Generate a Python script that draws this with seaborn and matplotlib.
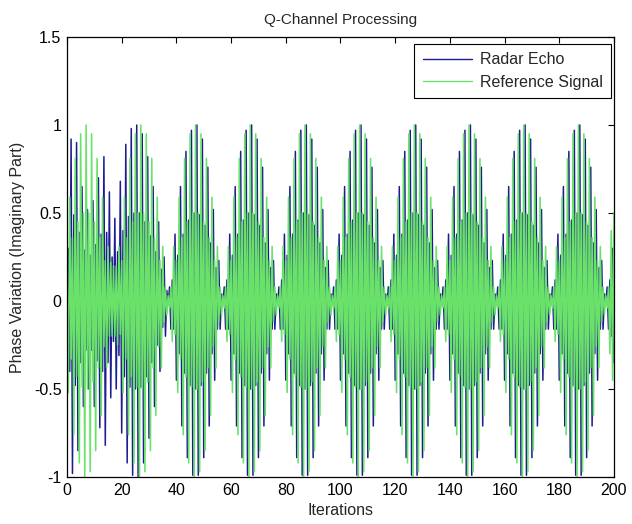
import numpy as np
import seaborn as sns
import matplotlib
matplotlib.use("Agg")
import matplotlib.pyplot as plt

# two samples per iteration, 0..200 (401 samples)
iterations = np.linspace(0, 200, 401)

radar_echo = [
    # 0 - 37 (irregular start)
    -0.35, 0.30, -0.40, 0.92, -0.98, 0.49, -0.48, 0.90, -0.85, 0.39,
    -0.35, 0.65, -0.60, 0.29, -0.28, 0.52, -0.50, 0.26, -0.28, 0.57,
    -0.60, 0.32, -0.34, 0.70, -0.72, 0.38, -0.40, 0.82, -0.82, 0.39,
    -0.35, 0.62, -0.55, 0.25, -0.23, 0.47, -0.50, 0.28, -0.31, 0.68,
    -0.75, 0.40, -0.43, 0.89, -0.92, 0.48, -0.49, 0.98, -0.99, 0.50,
    -0.50, 1.00, -1.00, 0.50, -0.49, 0.95, -0.92, 0.45, -0.43, 0.82,
    -0.78, 0.37, -0.35, 0.65, -0.60, 0.28, -0.25, 0.45, -0.40, 0.18,
    -0.15, 0.25, -0.20, 0.06,
    # 37 - 57
    -0.02, 0.08, -0.16, 0.12, -0.16, 0.38, -0.45, 0.26, -0.30, 0.65,
    -0.71, 0.38, -0.41, 0.85, -0.89, 0.46, -0.48, 0.97, -0.99, 0.50,
    -0.50, 1.00, -0.99, 0.49, -0.48, 0.92, -0.89, 0.43, -0.41, 0.76,
    -0.71, 0.33, -0.30, 0.52, -0.45, 0.19, -0.16, 0.23, -0.16, 0.04,
    # 57 - 77
    -0.02, 0.08, -0.16, 0.12, -0.16, 0.38, -0.45, 0.26, -0.30, 0.65,
    -0.71, 0.38, -0.41, 0.85, -0.89, 0.46, -0.48, 0.97, -0.99, 0.50,
    -0.50, 1.00, -0.99, 0.49, -0.48, 0.92, -0.89, 0.43, -0.41, 0.76,
    -0.71, 0.33, -0.30, 0.52, -0.45, 0.19, -0.16, 0.23, -0.16, 0.04,
    # 77 - 97
    -0.02, 0.08, -0.16, 0.12, -0.16, 0.38, -0.45, 0.26, -0.30, 0.65,
    -0.71, 0.38, -0.41, 0.85, -0.89, 0.46, -0.48, 0.97, -0.99, 0.50,
    -0.50, 1.00, -0.99, 0.49, -0.48, 0.92, -0.89, 0.43, -0.41, 0.76,
    -0.71, 0.33, -0.30, 0.52, -0.45, 0.19, -0.16, 0.23, -0.16, 0.04,
    # 97 - 117
    -0.02, 0.08, -0.16, 0.12, -0.16, 0.38, -0.45, 0.26, -0.30, 0.65,
    -0.71, 0.38, -0.41, 0.85, -0.89, 0.46, -0.48, 0.97, -0.99, 0.50,
    -0.50, 1.00, -0.99, 0.49, -0.48, 0.92, -0.89, 0.43, -0.41, 0.76,
    -0.71, 0.33, -0.30, 0.52, -0.45, 0.19, -0.16, 0.23, -0.16, 0.04,
    # 117 - 137
    -0.02, 0.08, -0.16, 0.12, -0.16, 0.38, -0.45, 0.26, -0.30, 0.65,
    -0.71, 0.38, -0.41, 0.85, -0.89, 0.46, -0.48, 0.97, -0.99, 0.50,
    -0.50, 1.00, -0.99, 0.49, -0.48, 0.92, -0.89, 0.43, -0.41, 0.76,
    -0.71, 0.33, -0.30, 0.52, -0.45, 0.19, -0.16, 0.23, -0.16, 0.04,
    # 137 - 157
    -0.02, 0.08, -0.16, 0.12, -0.16, 0.38, -0.45, 0.26, -0.30, 0.65,
    -0.71, 0.38, -0.41, 0.85, -0.89, 0.46, -0.48, 0.97, -0.99, 0.50,
    -0.50, 1.00, -0.99, 0.49, -0.48, 0.92, -0.89, 0.43, -0.41, 0.76,
    -0.71, 0.33, -0.30, 0.52, -0.45, 0.19, -0.16, 0.23, -0.16, 0.04,
    # 157 - 177
    -0.02, 0.08, -0.16, 0.12, -0.16, 0.38, -0.45, 0.26, -0.30, 0.65,
    -0.71, 0.38, -0.41, 0.85, -0.89, 0.46, -0.48, 0.97, -0.99, 0.50,
    -0.50, 1.00, -0.99, 0.49, -0.48, 0.92, -0.89, 0.43, -0.41, 0.76,
    -0.71, 0.33, -0.30, 0.52, -0.45, 0.19, -0.16, 0.23, -0.16, 0.04,
    # 177 - 197
    -0.02, 0.08, -0.16, 0.12, -0.16, 0.38, -0.45, 0.26, -0.30, 0.65,
    -0.71, 0.38, -0.41, 0.85, -0.89, 0.46, -0.48, 0.97, -0.99, 0.50,
    -0.50, 1.00, -0.99, 0.49, -0.48, 0.92, -0.89, 0.43, -0.41, 0.76,
    -0.71, 0.33, -0.30, 0.52, -0.45, 0.19, -0.16, 0.23, -0.16, 0.04,
    # 197 - 200
    -0.02, 0.08, -0.16, 0.12, -0.20, 0.30, -0.35,
]

reference_signal = [
    # 0 - 17
    0.23, -0.52, 0.59, -0.33, 0.36, -0.76, 0.81, -0.43, 0.45, -0.92,
    0.95, -0.49, 0.50, -1.00, 1.00, -0.50, 0.50, -0.97, 0.95, -0.46,
    0.45, -0.85, 0.81, -0.38, 0.36, -0.65, 0.59, -0.26, 0.23, -0.38,
    0.31, -0.20, 0.22, -0.20,
    # 17 - 37
    0.20, -0.20, 0.20, -0.25, 0.31, -0.19, 0.23, -0.52, 0.59, -0.33,
    0.36, -0.76, 0.81, -0.43, 0.45, -0.92, 0.95, -0.49, 0.50, -1.00,
    1.00, -0.50, 0.50, -0.97, 0.95, -0.46, 0.45, -0.85, 0.81, -0.38,
    0.36, -0.65, 0.59, -0.26, 0.23, -0.38, 0.31, -0.12, 0.08, -0.08,
    # 37 - 57
    0.03, -0.04, 0.08, -0.23, 0.31, -0.19, 0.23, -0.52, 0.59, -0.33,
    0.36, -0.76, 0.81, -0.43, 0.45, -0.92, 0.95, -0.49, 0.50, -1.00,
    1.00, -0.50, 0.50, -0.97, 0.95, -0.46, 0.45, -0.85, 0.81, -0.38,
    0.36, -0.65, 0.59, -0.26, 0.23, -0.38, 0.31, -0.12, 0.08, -0.08,
    # 57 - 77
    0.03, -0.04, 0.08, -0.23, 0.31, -0.19, 0.23, -0.52, 0.59, -0.33,
    0.36, -0.76, 0.81, -0.43, 0.45, -0.92, 0.95, -0.49, 0.50, -1.00,
    1.00, -0.50, 0.50, -0.97, 0.95, -0.46, 0.45, -0.85, 0.81, -0.38,
    0.36, -0.65, 0.59, -0.26, 0.23, -0.38, 0.31, -0.12, 0.08, -0.08,
    # 77 - 97
    0.03, -0.04, 0.08, -0.23, 0.31, -0.19, 0.23, -0.52, 0.59, -0.33,
    0.36, -0.76, 0.81, -0.43, 0.45, -0.92, 0.95, -0.49, 0.50, -1.00,
    1.00, -0.50, 0.50, -0.97, 0.95, -0.46, 0.45, -0.85, 0.81, -0.38,
    0.36, -0.65, 0.59, -0.26, 0.23, -0.38, 0.31, -0.12, 0.08, -0.08,
    # 97 - 117
    0.03, -0.04, 0.08, -0.23, 0.31, -0.19, 0.23, -0.52, 0.59, -0.33,
    0.36, -0.76, 0.81, -0.43, 0.45, -0.92, 0.95, -0.49, 0.50, -1.00,
    1.00, -0.50, 0.50, -0.97, 0.95, -0.46, 0.45, -0.85, 0.81, -0.38,
    0.36, -0.65, 0.59, -0.26, 0.23, -0.38, 0.31, -0.12, 0.08, -0.08,
    # 117 - 137
    0.03, -0.04, 0.08, -0.23, 0.31, -0.19, 0.23, -0.52, 0.59, -0.33,
    0.36, -0.76, 0.81, -0.43, 0.45, -0.92, 0.95, -0.49, 0.50, -1.00,
    1.00, -0.50, 0.50, -0.97, 0.95, -0.46, 0.45, -0.85, 0.81, -0.38,
    0.36, -0.65, 0.59, -0.26, 0.23, -0.38, 0.31, -0.12, 0.08, -0.08,
    # 137 - 157
    0.03, -0.04, 0.08, -0.23, 0.31, -0.19, 0.23, -0.52, 0.59, -0.33,
    0.36, -0.76, 0.81, -0.43, 0.45, -0.92, 0.95, -0.49, 0.50, -1.00,
    1.00, -0.50, 0.50, -0.97, 0.95, -0.46, 0.45, -0.85, 0.81, -0.38,
    0.36, -0.65, 0.59, -0.26, 0.23, -0.38, 0.31, -0.12, 0.08, -0.08,
    # 157 - 177
    0.03, -0.04, 0.08, -0.23, 0.31, -0.19, 0.23, -0.52, 0.59, -0.33,
    0.36, -0.76, 0.81, -0.43, 0.45, -0.92, 0.95, -0.49, 0.50, -1.00,
    1.00, -0.50, 0.50, -0.97, 0.95, -0.46, 0.45, -0.85, 0.81, -0.38,
    0.36, -0.65, 0.59, -0.26, 0.23, -0.38, 0.31, -0.12, 0.08, -0.08,
    # 177 - 197
    0.03, -0.04, 0.08, -0.23, 0.31, -0.19, 0.23, -0.52, 0.59, -0.33,
    0.36, -0.76, 0.81, -0.43, 0.45, -0.92, 0.95, -0.49, 0.50, -1.00,
    1.00, -0.50, 0.50, -0.97, 0.95, -0.46, 0.45, -0.85, 0.81, -0.38,
    0.36, -0.65, 0.59, -0.26, 0.23, -0.38, 0.31, -0.12, 0.08, -0.08,
    # 197 - 200
    0.03, -0.04, 0.08, -0.30, 0.40, -0.45, 0.50,
]

x_ticks = [0, 20, 40, 60, 80, 100, 120, 140, 160, 180, 200]
y_ticks = [-1, -0.5, 0, 0.5, 1, 1.5]
y_tick_labels = ["-1", "-0.5", "0", "0.5", "1", "1.5"]

sns.set_style("white")
plt.rcParams['font.family'] = ['Liberation Sans', 'DejaVu Sans']

fig = plt.figure(figsize=(6.32, 5.24), dpi=100)
ax = fig.add_axes([0.106, 0.0897, 0.8655, 0.8397])

sns.lineplot(x=iterations, y=radar_echo, color="#1c1c8f", lw=1.1, label="Radar Echo", ax=ax)
sns.lineplot(x=iterations, y=reference_signal, color="#6ae26a", lw=1.15, label="Reference Signal", ax=ax)

ax.set_xlim(0, 200)
ax.set_ylim(-1, 1.5)
ax.set_xticks(x_ticks)
ax.set_yticks(y_ticks)
ax.set_yticklabels(y_tick_labels)
ax.tick_params(direction="in", top=True, right=True, length=4, width=0.8,
               labelsize=11.5, colors="black", pad=4)
for s in ax.spines.values():
    s.set_color("black")
    s.set_linewidth(0.9)

ax.set_title("Q-Channel Processing", fontsize=11, pad=9)
ax.set_xlabel("Iterations", fontsize=11.5, labelpad=4)
ax.set_ylabel("Phase Variation (Imaginary Part)", fontsize=11.5, labelpad=6)

leg = ax.legend(loc="upper right", bbox_to_anchor=(0.9945, 0.984), borderaxespad=0,
                fontsize=11.5, handlelength=3.1, fancybox=False, framealpha=1,
                edgecolor="black", labelspacing=0.44, borderpad=0.53, handletextpad=0.45)
leg.get_frame().set_linewidth(0.8)
for line in leg.get_lines():
    line.set_linewidth(1.0)

fig.savefig("out.png", dpi=100)
